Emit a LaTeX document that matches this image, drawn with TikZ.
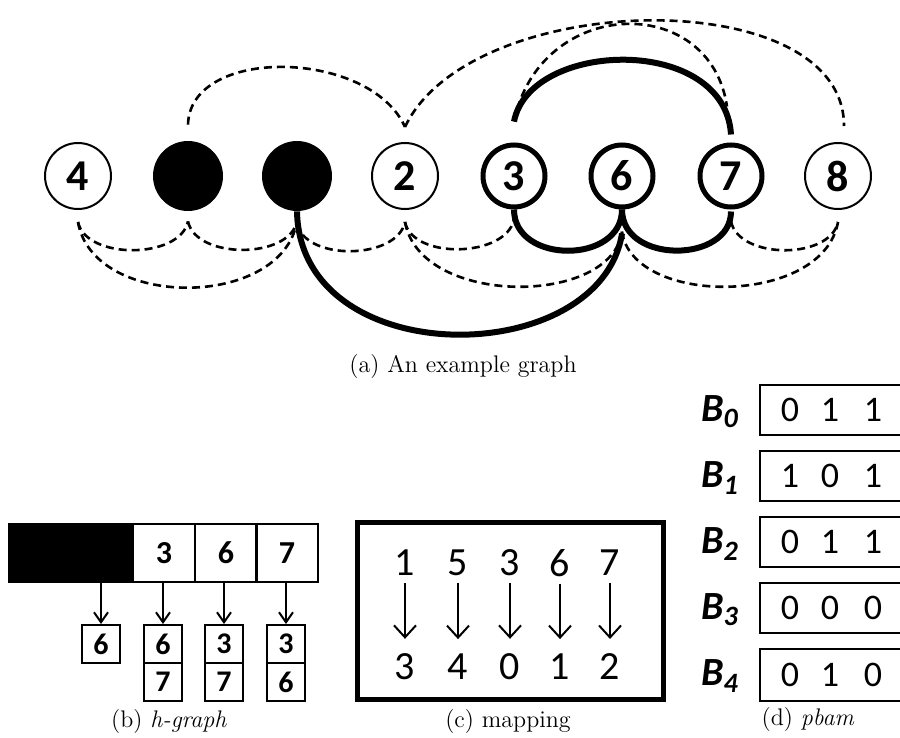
\documentclass[tikz,border=0pt]{standalone}
\usepackage{fontspec}
\setsansfont{Carlito}
\usetikzlibrary{arrows.meta}

\newcommand{\gnodefont}{\sffamily\bfseries\fontsize{22}{22}\selectfont}
\newcommand{\hcellfont}{\sffamily\bfseries\fontsize{16}{16}\selectfont}
\newcommand{\lcellfont}{\sffamily\bfseries\fontsize{15}{15}\selectfont}
\newcommand{\mapfont}{\sffamily\fontsize{20}{20}\selectfont}
\newcommand{\bitfont}{\sffamily\fontsize{18}{18}\selectfont}
\newcommand{\blabfont}{\sffamily\bfseries\itshape\fontsize{20}{20}\selectfont}
\newcommand{\capfont}{\fontsize{12}{14}\selectfont}

\begin{document}
\begin{tikzpicture}[x=0.5pt,y=-0.5pt,
	gnode/.style={circle,draw,line width=1pt,minimum size=33pt,inner sep=0pt,font=\gnodefont},
	hotnode/.style={gnode,line width=2.5pt,minimum size=31pt},
	blknode/.style={circle,fill=black,minimum size=35pt,inner sep=0pt},
	dashlink/.style={line width=1.3pt,dash pattern=on 4pt off 2.5pt},
	thicklink/.style={line width=3pt},
	hcell/.style={draw,line width=1pt,minimum width=31pt,minimum height=29pt,inner sep=0pt,font=\hcellfont},
	lcell/.style={draw,line width=1pt,minimum size=19pt,inner sep=0pt,font=\lcellfont},
	downarrow/.style={line width=1pt,-{Straight Barb[length=5pt,width=7pt]}},
	mapnum/.style={font=\mapfont},
	maparrow/.style={line width=1pt,-{Straight Barb[length=6pt,width=11pt]}},
	bitrow/.style={line width=1pt},
	caption/.style={font=\capfont}]
\useasboundingbox (0,0) rectangle (900,738);

% (a) graph
\node[gnode] (n4) at (78,176) {4};
\node[blknode] (nb1) at (188,176) {};
\node[blknode] (nb2) at (297,176) {};
\node[gnode] (n2) at (405,176) {2};
\node[hotnode] (n3) at (514,176) {3};
\node[hotnode] (n6) at (622,176) {6};
\node[hotnode] (n7) at (731,176) {7};
\node[gnode] (n8) at (838,176) {8};

% lower arcs
\draw[dashlink] ([yshift=-6pt]n4.south) .. controls +(8,38) and +(-8,38) .. ([yshift=-5pt]nb1.south);
\draw[dashlink] ([yshift=-5pt]nb1.south) .. controls +(8,38) and +(-8,38) .. ([yshift=-5pt]nb2.south);
\draw[dashlink] ([yshift=-6pt]n4.south) .. controls +(15,88) and +(-15,88) .. ([yshift=-5pt]nb2.south);
\draw[dashlink] ([yshift=-6pt]nb2.south) .. controls +(8,38) and +(-8,38) .. ([yshift=-6pt]n2.south);
\draw[dashlink] ([yshift=-6pt]n2.south) .. controls +(8,38) and +(-8,38) .. ([yshift=-5pt]n3.south);
\draw[dashlink] ([yshift=-6pt]n2.south) .. controls +(15,85) and +(-10,75) .. ([yshift=-11pt]n6.south);
\draw[dashlink] ([yshift=-6pt]n7.south) .. controls +(8,38) and +(-8,38) .. ([yshift=-6pt]n8.south);
\draw[dashlink] ([yshift=-11pt]n6.south) .. controls +(10,75) and +(-15,85) .. ([yshift=-6pt]n8.south);
\draw[thicklink] (n3.south) .. controls +(0,55) and +(0,55) .. (n6.south);
\draw[thicklink] (n6.south) .. controls +(0,55) and +(0,52) .. ([yshift=-1pt]n7.south);
\draw[thicklink] (nb2.south) .. controls +(3,162) and +(-22,137) .. ([yshift=-12pt]n6.south);

% upper arcs
\draw[dashlink] ([yshift=8pt]nb1.north) .. controls +(2,-79) and +(-35,-78) .. ([yshift=7.5pt]n2.north);
\draw[dashlink] ([yshift=7.5pt]n2.north) .. controls +(65,-138) and +(0,-145) .. ([xshift=3pt,yshift=8pt]n8.north);
\draw[dashlink] ([yshift=10.5pt]n3.north) .. controls +(26,-125) and +(-17,-115) .. ([xshift=-2pt,yshift=18pt]n7.north);
\draw[thicklink] ([yshift=10.5pt]n3.north) .. controls +(16,-82) and +(-6,-100) .. ([yshift=4pt]n7.north);

\node[caption] (capa) at (463,367) {(a) An example graph};

% (b) h-graph
\node[draw,fill=black,line width=1pt,minimum width=62pt,minimum height=29pt] (hblk) at (71,553) {};
\node[hcell] (h3) at (164,553) {3};
\node[hcell] (h6) at (226,553) {6};
\node[hcell] (h7) at (287,553) {7};
\node[lcell] (l1) at (101,644) {6};
\node[lcell] (l2a) at (163,644) {6};
\node[lcell] (l2b) at (163,682) {7};
\node[lcell] (l3a) at (224,644) {3};
\node[lcell] (l3b) at (224,682) {7};
\node[lcell] (l4a) at (286,644) {3};
\node[lcell] (l4b) at (286,682) {6};
\draw[downarrow] (hblk.south -| l1) -- (l1.north);
\draw[downarrow] (h3.south -| l2a) -- (l2a.north);
\draw[downarrow] (h6.south -| l3a) -- (l3a.north);
\draw[downarrow] (h7.south -| l4a) -- (l4a.north);
\node[caption] (capb) at (169,722) {(b) \textit{h-graph}};

% (c) mapping
\draw[line width=2.5pt] (357,522) rectangle (663,699);
\node[mapnum] (m1) at (405,563) {1};
\node[mapnum] (m5) at (458,563) {5};
\node[mapnum] (m3) at (510,563) {3};
\node[mapnum] (m6) at (560,563) {6};
\node[mapnum] (m7) at (610,563) {7};
\node[mapnum] (r1) at (405,667) {3};
\node[mapnum] (r5) at (458,667) {4};
\node[mapnum] (r3) at (510,667) {0};
\node[mapnum] (r6) at (560,667) {1};
\node[mapnum] (r7) at (610,667) {2};
\draw[maparrow] (m1) -- ([yshift=4pt]r1.north);
\draw[maparrow] (m5) -- ([yshift=4pt]r5.north);
\draw[maparrow] (m3) -- ([yshift=4pt]r3.north);
\draw[maparrow] (m6) -- ([yshift=4pt]r6.north);
\draw[maparrow] (m7) -- ([yshift=4pt]r7.north);
\node[caption] (capc) at (508,722) {(c) mapping};

% (d) pbam
\node[font=\blabfont] (b0) at (720,412) {B\textsubscript{0}};
\node[font=\blabfont] (b1) at (720,478) {B\textsubscript{1}};
\node[font=\blabfont] (b2) at (720,544) {B\textsubscript{2}};
\node[font=\blabfont] (b3) at (720,610) {B\textsubscript{3}};
\node[font=\blabfont] (b4) at (720,676) {B\textsubscript{4}};
\draw[bitrow] (760,385) rectangle (912,435);
\draw[bitrow] (760,451) rectangle (912,501);
\draw[bitrow] (760,517) rectangle (912,567);
\draw[line width=1.3pt] (760,583) rectangle (912,633);
\draw[line width=1.3pt] (760,649) rectangle (912,701);
\node[font=\bitfont] at (790,410) {0}; \node[font=\bitfont] at (830,410) {1}; \node[font=\bitfont] at (873,410) {1};
\node[font=\bitfont] at (790,476) {1}; \node[font=\bitfont] at (830,476) {0}; \node[font=\bitfont] at (873,476) {1};
\node[font=\bitfont] at (790,542) {0}; \node[font=\bitfont] at (830,542) {1}; \node[font=\bitfont] at (873,542) {1};
\node[font=\bitfont] at (790,608) {0}; \node[font=\bitfont] at (830,608) {0}; \node[font=\bitfont] at (873,608) {0};
\node[font=\bitfont] at (790,675) {0}; \node[font=\bitfont] at (830,675) {1}; \node[font=\bitfont] at (873,675) {0};
\node[caption] (capd) at (808,720) {(d) \textit{pbam}};

\end{tikzpicture}
\end{document}
